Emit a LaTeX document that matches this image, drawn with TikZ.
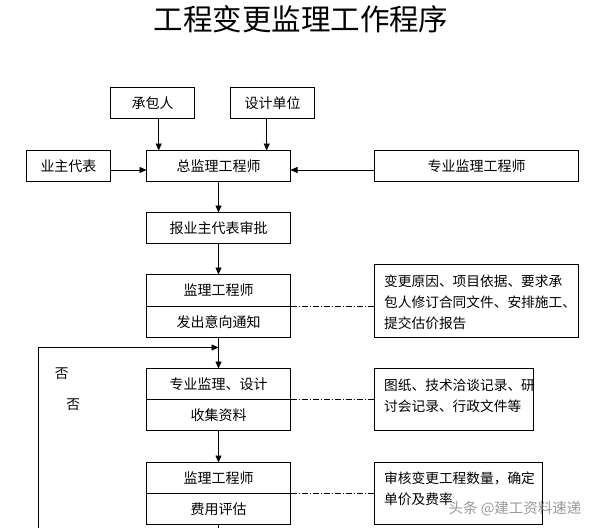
\documentclass[tikz,border=0pt]{standalone}
\usepackage{fontspec}
\setmainfont{Noto Sans CJK SC}
\usetikzlibrary{arrows.meta}
\begin{document}
\begin{tikzpicture}[x=1pt,y=-1pt,
  box/.style={draw,line width=0.8pt,inner sep=0pt,outer sep=0pt,font=\fontsize{14}{21}\selectfont},
  txt/.style={inner sep=0pt,align=left,font=\fontsize{13.7}{21}\selectfont},
  arr/.style={line width=0.8pt,-{Triangle[length=7pt,width=6pt]}},
  ln/.style={line width=0.8pt},
  dd/.style={line width=0.7pt,dash pattern=on 6pt off 2pt on 1pt off 2pt}]
\useasboundingbox (0,0) rectangle (598,528);
% title
\node[inner sep=0pt,font=\fontsize{29.5}{31}\selectfont] (title) at (301,19) {工程变更监理工作程序};
% top row
\node[box,minimum width=84pt,minimum height=31pt] (cb) at (152.5,103) {承包人};
\node[box,minimum width=84pt,minimum height=31pt] (sj) at (272.5,103) {设计单位};
\node[box,minimum width=84pt,minimum height=30.5pt] (yz) at (68.5,165.75) {业主代表};
\node[box,minimum width=144pt,minimum height=30.5pt] (zj) at (218.5,165.75) {总监理工程师};
\node[box,minimum width=204pt,minimum height=30.5pt] (zy) at (476.5,165.75) {专业监理工程师};
\node[box,minimum width=144pt,minimum height=31pt] (bp) at (218.5,228) {报业主代表审批};
% step 1
\node[box,minimum width=144pt,minimum height=32pt] (b1t) at (218.5,290.5) {监理工程师};
\node[box,minimum width=144pt,minimum height=30.5pt] (b1b) at (218.5,321.75) {发出意向通知};
\node[box,minimum width=204pt,minimum height=73pt] (r1) at (476.5,301) {};
\node[txt,anchor=west] (r1t) at (384,302.7) {变更原因、项目依据、要求承\\包人修订合同文件、安排施工、\\提交估价报告};
% step 2
\node[box,minimum width=144pt,minimum height=31pt] (b2t) at (218.5,384) {专业监理、设计};
\node[box,minimum width=144pt,minimum height=30.5pt] (b2b) at (218.5,414.75) {收集资料};
\node[box,minimum width=159pt,minimum height=61.5pt] (r2) at (454,399.25) {};
\node[txt,anchor=west] (r2t) at (384,396) {图纸、技术洽谈记录、研\\讨会记录、行政文件等};
% step 3
\node[box,minimum width=144pt,minimum height=31pt] (b3t) at (218.5,478) {监理工程师};
\node[box,minimum width=144pt,minimum height=31pt] (b3b) at (218.5,509) {费用评估};
\node[box,minimum width=168pt,minimum height=62pt] (r3) at (458.5,493.5) {};
\node[txt,anchor=west] (r3t) at (384,489) {审核变更工程数量，确定\\单价及费率};
% no labels
\node[txt] (no1) at (61.7,373.3) {否};
\node[txt] (no2) at (73.3,405) {否};
% watermark
\node[inner sep=0pt,text=gray!80,font=\fontsize{14.5}{15}\selectfont\itshape] (wm) at (515,509) {头条 @建工资料速递};
% helper coordinates
\coordinate (ca) at (158.7,0);
\coordinate (cs) at (266.7,0);
\coordinate (hy) at (0,170);
\coordinate (fb0) at (38.5,528);
\coordinate (fb1) at (218.5,347.5);
\coordinate (endm) at (218.5,528);
% connectors
\draw[arr] (ca |- cb.south) -- (ca |- zj.north);
\draw[arr] (cs |- sj.south) -- (cs |- zj.north);
\draw[arr] (yz.east |- hy) -- (zj.west |- hy);
\draw[arr] (zy.west |- hy) -- (zj.east |- hy);
\draw[arr] (zj.south) -- (bp.north);
\draw[arr] (bp.south) -- (b1t.north);
\draw[arr] (b1b.south) -- (b2t.north);
\draw[arr] (b2b.south) -- (b3t.north);
\draw[ln] (b3b.south) -- (endm);
\draw[arr] (fb0) |- (fb1);
% dash-dot links
\draw[dd] (b1t.south east) -- (r1.west |- b1t.south east);
\draw[dd] (b2t.south east) -- (r2.west |- b2t.south east);
\draw[dd] (b3t.south east) -- (r3.west |- b3t.south east);
\end{tikzpicture}
\end{document}
